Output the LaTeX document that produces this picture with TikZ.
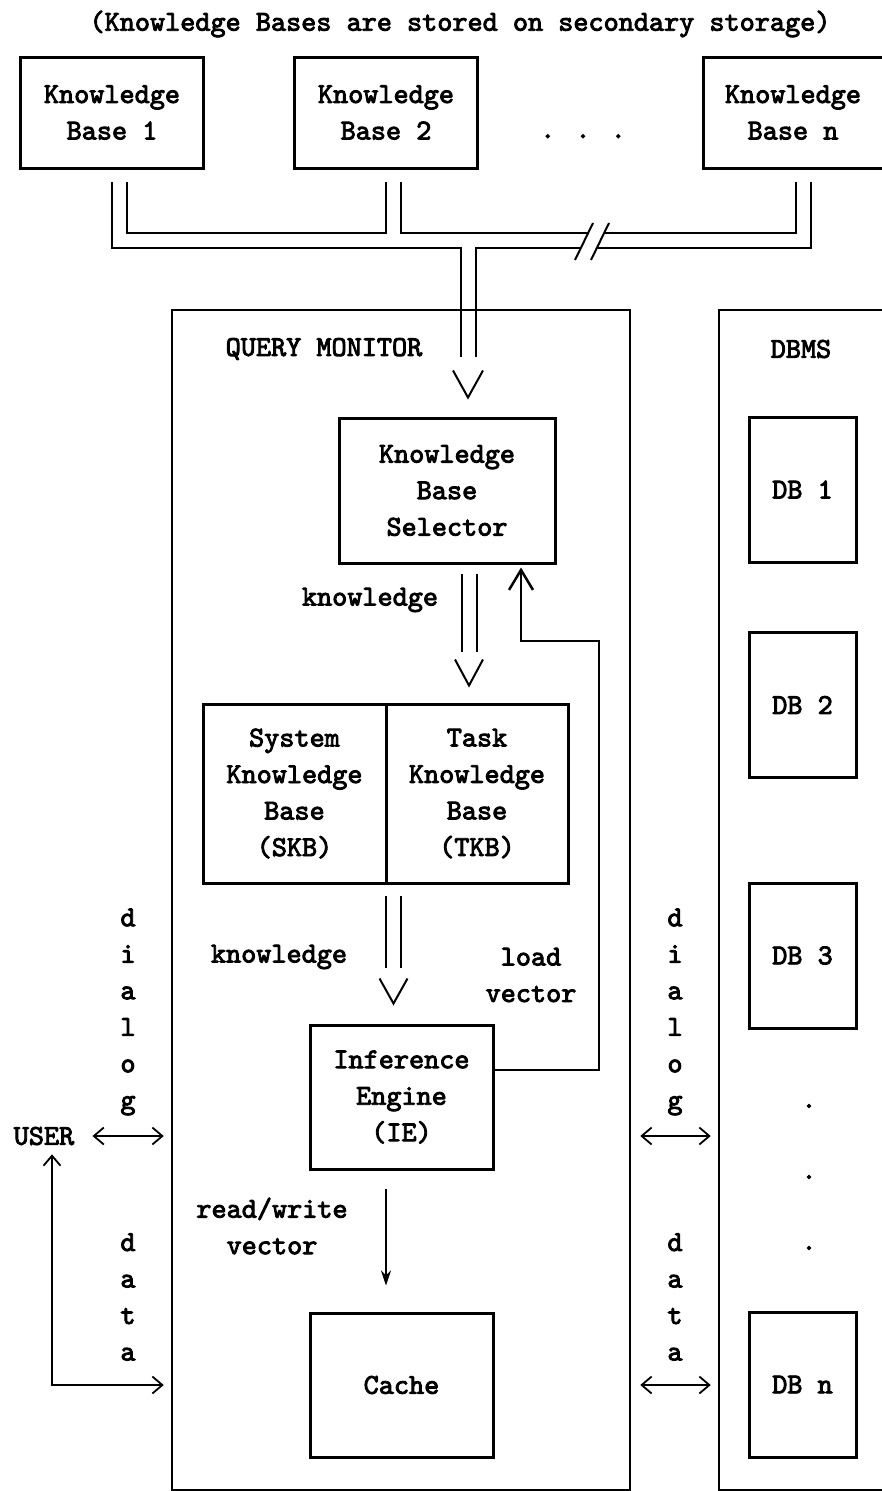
\documentclass[tikz,border=0pt]{standalone}
\usepackage{fontspec}
\newfontfamily\typefont{lmmono10-regular.otf}[FakeBold=3]
\usetikzlibrary{arrows.meta,calc}

\begin{document}
\begin{tikzpicture}[x=1pt, y=-1pt,
		every node/.style={font=\typefont\fontsize{28.8}{36.5}\selectfont, inner sep=0pt},
		box/.style={draw, line width=3pt, align=center},
		kbbox/.style={box, minimum width=183pt, minimum height=111pt},
		dbbox/.style={box, minimum width=107pt, minimum height=145pt},
		midbox/.style={box, minimum width=183pt, minimum height=144pt},
		frame/.style={draw, line width=2.5pt},
		line/.style={line width=2pt},
		pipe/.style={line width=2pt, double, double distance=13pt},
		upbarb/.style={line width=2pt, -{Straight Barb[length=20pt, width=24pt, line width=2.5pt]}},
		twoway/.style={line width=2pt, {Straight Barb[length=10pt, width=17pt, line width=1.8pt]}-{Straight Barb[length=10pt, width=17pt, line width=1.8pt]}},
		rwarrow/.style={line width=1.5pt, -{Stealth[length=15pt, width=10pt]}},
	]
	\useasboundingbox (0,0) rectangle (882,1491);

	\node (title) at (460,24) {(Knowledge Bases are stored on secondary storage)};

	% knowledge bases
	\node[kbbox] (kb1) at (112,112.5) {Knowledge\\Base 1};
	\node[kbbox] (kb2) at (386,112.5) {Knowledge\\Base 2};
	\node[kbbox, minimum width=180pt] (kbn) at (793,112.5) {Knowledge\\Base n};
	\node[anchor=base] (kbdots) at (583,138) {. . .};

	% query monitor parts
	\node[box, minimum width=216pt, minimum height=145pt] (sel) at (447,490.5) {Knowledge\\Base\\Selector};
	\node[box, minimum width=183pt, minimum height=179pt] (skb) at (294.5,793.5) {System\\Knowledge\\Base\\(SKB)};
	\node[box, minimum width=182pt, minimum height=179pt] (tkb) at (477,793.5) {Task\\Knowledge\\Base\\(TKB)};
	\node[midbox] (ie) at (401.5,1097) {Inference\\Engine\\(IE)};
	\node[midbox] (cache) at (401.5,1385) {Cache};

	% databases
	\node[dbbox] (db1) at (802.5,489.5) {DB 1};
	\node[dbbox] (db2) at (802.5,705) {DB 2};
	\node[dbbox] (db3) at (802.5,955.5) {DB 3};
	\node[dbbox] (dbn) at (802.5,1384.5) {DB n};
	\foreach \y [count=\i] in {1106,1177,1248}
		\node (dbdot\i) at (809,\y) {.};

	% bus from the knowledge bases
	\coordinate (bus) at (468,240.5);
	\foreach \w/\c in {17/black, 13/white}
		\draw[line width=\w pt, \c] ($(kb1.south)+(7,12)$) |- (bus)
			($(kb2.south)+(7,12)$) |- (bus)
			($(kbn.south)+(10.5,12)$) |- (bus)
			(bus) -- ($(sel.north)+(21,-60)$);
	\fill[white] (575,260) -- (593,223) -- (609,223) -- (591,260) -- cycle;
	\draw[line] (575,260) -- (593,223) (591,260) -- (609,223);
	\draw[line] ($(sel.north)+(6,-46)$) -- ($(sel.north)+(21,-19)$) -- ($(sel.north)+(36,-46)$);

	% frames
	\node[frame, minimum width=458pt, minimum height=1180pt] (qm) at (401,900) {};
	\node[frame, minimum width=164pt, minimum height=1180pt] (dbms) at (801,900) {};
	\node (qmlabel) at (324,349) {QUERY MONITOR};
	\node (dbmslabel) at (801,349) {DBMS};

	% selector to SKB/TKB
	\draw[pipe] ($(sel.south)+(22,9)$) -- ($(sel.south)+(22,87)$);
	\draw[line] ($(sel.south)+(8,95)$) -- ($(sel.south)+(22,121)$) -- ($(sel.south)+(36,95)$);
	\node (know1) at (370,600) {knowledge};

	% SKB/TKB to IE
	\draw[pipe] ($(ie.north)+(-8,-128)$) -- ($(ie.north)+(-8,-56)$);
	\draw[line] ($(ie.north)+(-22,-45)$) -- ($(ie.north)+(-8,-20)$) -- ($(ie.north)+(6,-45)$);
	\node (know2) at (279,957) {knowledge};
	\node[align=center] (loadv) at (531,975) {load\\vector};

	% load vector back to selector
	\draw[upbarb] ($(ie.east)+(0,-27)$) -| ($(sel.south)+(152,76)$) -| ($(sel.south)+(74,3)$);

	% IE to cache
	\draw[rwarrow] ($(ie.south)+(-15.5,18)$) -- ($(cache.north)+(-15.5,-26)$);
	\node[align=center] (rwv) at (272,1226) {read/write\\vector};

	% user side
	\node (user) at (44,1136) {USER};
	\node[align=center] (dlgL) at (128,1012) {d\\i\\a\\l\\o\\g};
	\node[align=center] (dataL) at (128,1297) {d\\a\\t\\a};
	\draw[twoway] ($(user.east)+(18,0)$) -- ($(qm.west |- user)+(-7,0)$);
	\draw[twoway] ($(qm.west |- cache)+(-7,0)$) -| ($(user.south)+(8,9)$);

	% DBMS side
	\node[align=center] (dlgR) at (675,1012) {d\\i\\a\\l\\o\\g};
	\node[align=center] (dataR) at (675,1297) {d\\a\\t\\a};
	\draw[twoway] ($(qm.east |- user)+(9,0)$) -- ($(dbms.west |- user)+(-7,0)$);
	\draw[twoway] ($(qm.east |- cache)+(9,0)$) -- ($(dbms.west |- cache)+(-7,0)$);
\end{tikzpicture}
\end{document}
